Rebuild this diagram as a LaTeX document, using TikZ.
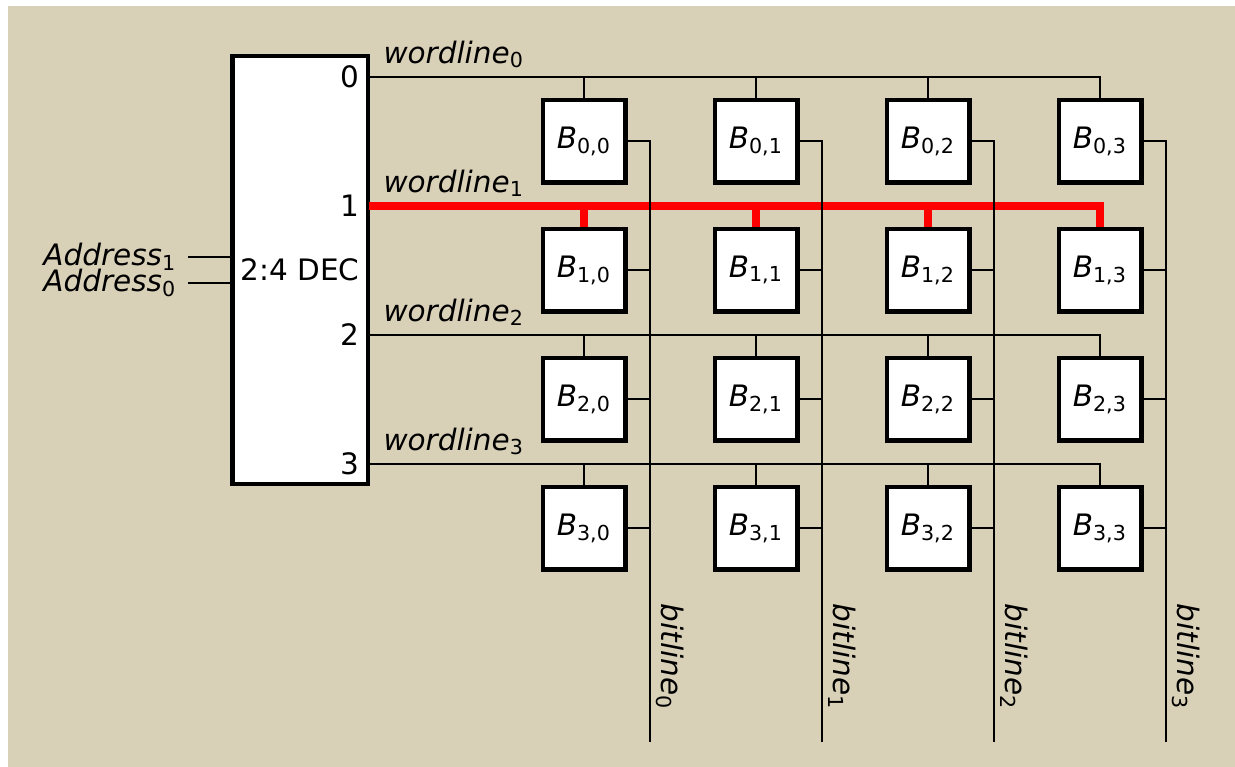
\documentclass[tikz,border=0pt]{standalone}
\usepackage{fontspec}
\setmainfont{DejaVu Sans}
\definecolor{paper}{RGB}{217,208,184}
\begin{document}
\begin{tikzpicture}[x=0.4pt, y=-0.4pt,
    every node/.style={font=\fontsize{11.8}{14}\selectfont},
    cell/.style={draw, line width=1.8pt, fill=white, minimum size=33pt, inner sep=0pt},
    wire/.style={line width=0.8pt}]

    \useasboundingbox (0,0) rectangle (1235,767);
    \fill[paper] (8,6) rectangle (1235,767);

    % Decoder
    \node[draw, line width=1.8pt, fill=white, minimum width=54.2pt,
        minimum height=171.2pt, inner sep=0pt] (dec) at (300,270) {2:4 DEC};

    % Decoder outputs
    \foreach \i in {0,...,3} {
        \node[anchor=east, inner sep=0pt] (out-\i) at (360, 77+129*\i) {\i};
        \coordinate (wl-\i) at (369, 77+129*\i);
    }

    % Address inputs
    \node[anchor=east, inner xsep=4.4pt, inner ysep=0pt] (addr-1) at (188,257) {\textit{Address}\textsubscript{1}};
    \node[anchor=east, inner xsep=4.4pt, inner ysep=0pt] (addr-0) at (188,283) {\textit{Address}\textsubscript{0}};
    \draw[wire] (addr-1.east) -- (addr-1.east -| dec.west);
    \draw[wire] (addr-0.east) -- (addr-0.east -| dec.west);

    % Cell nodes
    \foreach \i in {0,...,3} {
        \foreach \j in {0,...,3} {
            \node[cell] (cell-\i-\j) at ({584+172*\j}, {141+129*\i}) {\textit{B}\textsubscript{\i,\j}};
        }
    }

    % Wordlines
    \foreach \i/\c/\w in {0/black/0.8pt, 1/red/3pt, 2/black/0.8pt, 3/black/0.8pt} {
        \node[anchor=base west, inner sep=0pt] (wlabel-\i) at (383, 63+129*\i) {\textit{wordline}\textsubscript{\i}};
        \draw[\c, line width=\w] (wl-\i) -| (cell-\i-3.north);
        \foreach \j in {0,...,2} {
            \draw[\c, line width=\w] (cell-\i-\j.north |- wl-\i) -- (cell-\i-\j.north);
        }
    }

    % Bitlines
    \foreach \j in {0,...,3} {
        \coordinate (bl-\j) at (650+172*\j, 742);
        \draw[wire] (cell-0-\j.east) -| (bl-\j);
        \foreach \i in {1,...,3} {
            \draw[wire] (cell-\i-\j.east) -- (cell-\i-\j.east -| bl-\j);
        }
        \node[rotate=-90, anchor=base west, inner sep=0pt] (blabel-\j) at (661+172*\j, 603) {\textit{bitline}\textsubscript{\j}};
    }

\end{tikzpicture}
\end{document}
